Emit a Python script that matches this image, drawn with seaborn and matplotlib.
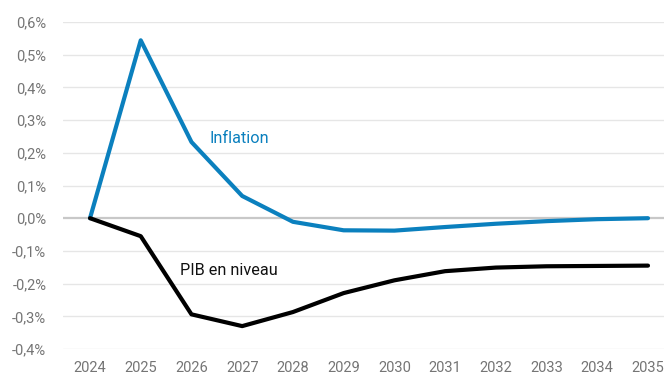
import matplotlib
matplotlib.use("Agg")
import matplotlib.pyplot as plt
import seaborn as sns
import pandas as pd
from matplotlib.ticker import FuncFormatter

years = [2024, 2025, 2026, 2027, 2028, 2029, 2030, 2031, 2032, 2033, 2034, 2035]
inflation = [0.0, 0.544, 0.233, 0.068, -0.011, -0.037, -0.038, -0.027, -0.017, -0.009, -0.003, 0.0]
pib = [0.0, -0.055, -0.294, -0.330, -0.287, -0.229, -0.190, -0.162, -0.151, -0.147, -0.146, -0.145]
series_names = ["Inflation", "PIB en niveau"]
y_ticks = [-0.4, -0.3, -0.2, -0.1, 0.0, 0.1, 0.2, 0.3, 0.4, 0.5, 0.6]

df = pd.DataFrame({
    "year": years * 2,
    "value": inflation + pib,
    "series": [series_names[0]] * len(years) + [series_names[1]] * len(years),
})

sns.set_theme(style="white")
plt.rcParams["font.family"] = ["Roboto", "DejaVu Sans"]

fig = plt.figure(figsize=(6.64, 3.75), dpi=100)
ax = fig.add_axes([63 / 664, 26 / 375, 1 - 63 / 664, 327 / 375])

blue = "#0b80be"
sns.lineplot(data=df, x="year", y="value", hue="series",
             palette={series_names[0]: blue, series_names[1]: "#000000"},
             linewidth=3, ax=ax, legend=False, zorder=3)

ax.set_ylim(-0.4, 0.6)
ax.set_xlim(2024 - 27 / 50.7, 2035 + 16 / 50.7)
ax.set_yticks(y_ticks)
ax.set_xticks(years)
ax.yaxis.set_major_formatter(FuncFormatter(lambda v, p: f"{v:.1f}%".replace(".", ",").replace("-0,0", "0,0")))
ax.set_xlabel("")
ax.set_ylabel("")
for s in ax.spines.values():
    s.set_visible(False)
ax.grid(False)
for t in y_ticks:
    ax.axhline(t, color="#c8c8c8" if t == 0 else "#e6e6e6", lw=1.6 if t == 0 else 1.0, zorder=1)
ax.tick_params(axis="both", length=0, labelsize=10.5, labelcolor="#757575")
ax.tick_params(axis="y", pad=12)
ax.tick_params(axis="x", pad=8.5)

ax.text(2026.35, 0.245, "Inflation", color=blue, fontsize=11.7, va="center", ha="left")
ax.text(2025.78, -0.16, "PIB en niveau", color="#111111", fontsize=11.7, va="center", ha="left")

fig.savefig("out.png", dpi=100)
